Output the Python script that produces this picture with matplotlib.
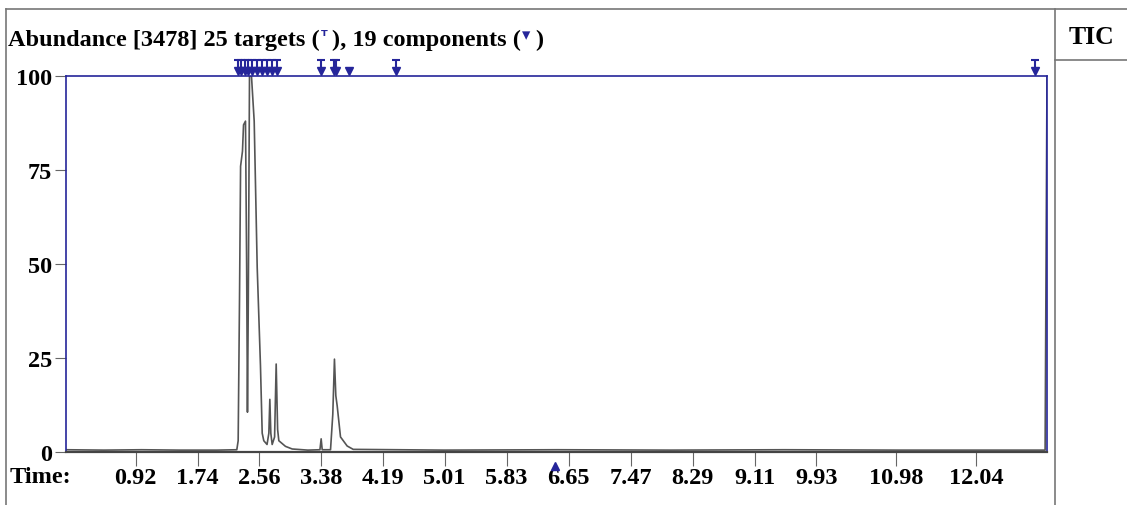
import matplotlib
matplotlib.use("Agg")
import matplotlib.pyplot as plt
from matplotlib.lines import Line2D

# TIC trace (time in min, abundance %)
times = [0.0, 0.5, 1.0, 1.5, 2.0, 2.26, 2.278, 2.296, 2.31, 2.335, 2.349, 2.375,
         2.39, 2.401, 2.412, 2.428, 2.454, 2.49, 2.53, 2.573, 2.596, 2.617, 2.66,
         2.684, 2.697, 2.71, 2.728, 2.76, 2.781, 2.80, 2.816, 2.904, 2.993, 3.2,
         3.36, 3.376, 3.39, 3.50, 3.53, 3.552, 3.57, 3.588, 3.632, 3.72, 3.80,
         5.0, 6.5, 8.0, 9.5, 11.0, 12.955, 12.98]
abundance = [0.6, 0.5, 0.6, 0.5, 0.5, 0.6, 3, 41, 76, 80, 87, 88,
             50, 10.6, 40, 100, 100, 88, 49, 23, 5, 3, 2,
             5, 14, 5, 2, 4, 23.4, 6, 3, 1.5, 0.8, 0.5,
             0.6, 3.5, 0.6, 0.6, 10, 24.7, 15, 12.3, 4, 1.6, 0.7,
             0.5, 0.6, 0.5, 0.6, 0.5, 0.5, 100]

# marker positions above the trace
component_times = [2.278, 2.322, 2.366, 2.411, 2.464, 2.530, 2.596, 2.662, 2.728,
                   2.794, 3.376, 3.543, 3.579, 3.742, 4.369, 12.825]
target_times = [2.278, 2.322, 2.366, 2.411, 2.464, 2.530, 2.596, 2.662, 2.728,
                2.794, 3.376, 3.543, 3.579, 4.369, 12.825]
cursor_time = 6.476

xtick_pos = [0.92, 1.74, 2.56, 3.38, 4.19, 5.01, 5.83, 6.65, 7.47, 8.29, 9.11, 9.93, 10.98, 12.04]
xtick_labels = ["0.92", "1.74", "2.56", "3.38", "4.19", "5.01", "5.83", "6.65",
                "7.47", "8.29", "9.11", "9.93", "10.98", "12.04"]
ytick_pos = [0, 25, 50, 75, 100]

W, H = 1127, 506
navy = "#25259a"
serif = ["Liberation Serif", "DejaVu Serif"]
fs = 17.5

fig = plt.figure(figsize=(W / 100, H / 100), dpi=100)
ax = fig.add_axes([66 / W, 1 - 453 / H, (1047 - 66) / W, (453 - 77) / H])

ax.plot(times, abundance, color="#555555", lw=1.2)

# markers: triangle + T-bar
ax.plot(component_times, [101.4] * len(component_times), ls="none", marker="v",
        ms=6, color=navy, clip_on=False)
ax.plot(target_times, [103.0] * len(target_times), ls="none", marker="|",
        ms=6, mew=1.5, color=navy, clip_on=False)
ax.plot(target_times, [104.2] * len(target_times), ls="none", marker="_",
        ms=6, mew=1.5, color=navy, clip_on=False)
ax.plot([cursor_time], [-3.6], ls="none", marker="^", ms=6, color=navy, clip_on=False)

ax.set_xlim(0, 12.98)
ax.set_ylim(0, 100)
ax.set_xticks(xtick_pos)
ax.set_xticklabels(xtick_labels)
ax.set_yticks(ytick_pos)
ax.set_yticklabels([str(v) for v in ytick_pos])

for lab in ax.get_xticklabels() + ax.get_yticklabels():
    lab.set_fontfamily(serif)
    lab.set_fontweight("bold")
    lab.set_fontsize(fs)
ax.tick_params(axis="x", length=10, color="#666666", pad=1)
ax.tick_params(axis="y", length=8, color="#666666", pad=2)

for side in ["top", "left", "right"]:
    ax.spines[side].set_color(navy)
    ax.spines[side].set_linewidth(1.2)
ax.spines["bottom"].set_color("#444444")
ax.spines["bottom"].set_linewidth(1.6)

# title pieces, chained left to right
t1 = fig.text(8 / W, 1 - 40 / H, "Abundance [3478] 25 targets (", family=serif,
              weight="bold", fontsize=fs, va="center", ha="left")
t2 = ax.annotate("\u1d40", xycoords=t1, xy=(1, 0.3), xytext=(1, 0),
                 textcoords="offset points", va="bottom", ha="left",
                 family=["DejaVu Sans"], fontsize=11, color=navy, weight="bold")
t3 = ax.annotate("), 19 components (", xycoords=t1, xy=(1, 0), xytext=(9, 0),
                 textcoords="offset points", va="bottom", ha="left",
                 family=serif, weight="bold", fontsize=fs)
t4 = ax.annotate("\u25be", xycoords=t3, xy=(1, 0.3), xytext=(1, 0),
                 textcoords="offset points", va="bottom", ha="left",
                 family=["DejaVu Sans"], fontsize=12, color=navy)
t5 = ax.annotate(")", xycoords=t3, xy=(1, 0), xytext=(10, 0), textcoords="offset points",
                 va="bottom", ha="left", family=serif, weight="bold", fontsize=fs)

fig.text(10 / W, 1 - 478 / H, "Time:", family=serif, weight="bold", fontsize=fs,
         va="center", ha="left")
fig.text(1091 / W, 1 - 37 / H, "TIC", family=serif, weight="bold", fontsize=fs + 1,
         va="center", ha="center")

# outer frame and TIC box
def fline(x0, y0, x1, y1):
    fig.add_artist(Line2D([x0 / W, x1 / W], [1 - y0 / H, 1 - y1 / H],
                          color="#777777", lw=1.2, transform=fig.transFigure))

fline(6, 10, 1127, 10)
fline(6, 10, 6, 506)
fline(1055, 10, 1055, 506)
fline(1055, 61, 1127, 61)

fig.savefig("out.png", dpi=100)
